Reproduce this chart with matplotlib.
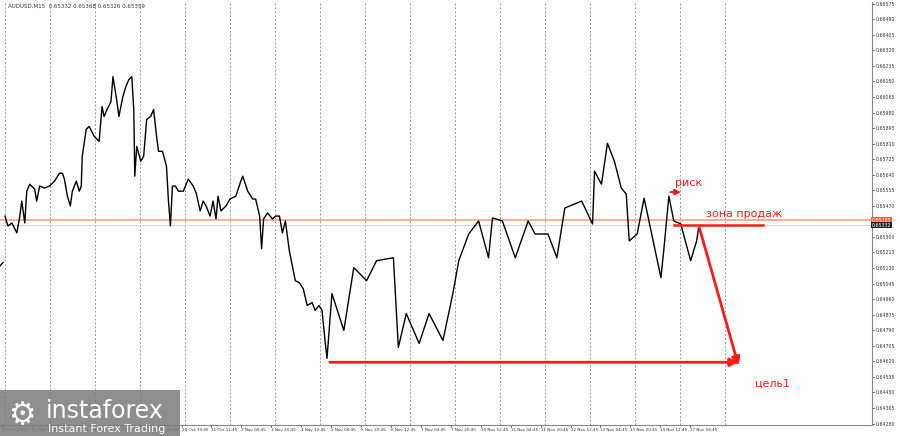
import matplotlib
matplotlib.use("Agg")
import matplotlib.pyplot as plt
from matplotlib.patches import Rectangle

# chart positions (bar-axis units ~ screen columns) and prices
bar_x = [5, 8, 12, 17, 20, 22, 25, 27, 30, 35, 37, 40, 45, 50, 55, 60, 63, 65, 68, 71,
         73, 77, 80, 82, 83, 87, 90, 95, 100, 103, 105, 108, 112, 114, 118, 120, 124, 127,
         130, 133, 135, 136, 138, 142, 145, 148, 152, 155, 158, 160, 164, 168, 170, 172,
         174, 177, 180, 185, 190, 195, 198, 202, 205, 208, 212, 215, 218, 220, 223, 228,
         232, 238, 243, 245, 250, 255, 258, 262, 264, 266, 270, 275, 278, 282, 285, 288,
         292, 295, 298, 302, 306, 310, 315, 318, 322, 325, 328, 330, 335, 347, 357, 370,
         380, 397, 402, 410, 423, 433, 447, 457, 463, 473, 483, 493, 497, 507, 520, 533,
         540, 553, 562, 570, 587, 598, 600, 607, 613, 620, 627, 632, 635, 643, 650, 657,
         667, 670, 675, 680, 687, 697, 703, 705]
close = [0.65414, 0.65360, 0.65376, 0.65322, 0.65414, 0.65496, 0.65376, 0.65550, 0.65588,
         0.65561, 0.65496, 0.65578, 0.65567, 0.65578, 0.65605, 0.65648, 0.65648, 0.65616,
         0.65523, 0.65469, 0.65550, 0.65605, 0.65550, 0.65578, 0.65741, 0.65888, 0.65904,
         0.65850, 0.65822, 0.66013, 0.65958, 0.65996, 0.66040, 0.66176, 0.66040, 0.65958,
         0.66067, 0.66122, 0.66160, 0.66176, 0.65996, 0.65632, 0.65795, 0.65714, 0.65741,
         0.65942, 0.65958, 0.65996, 0.65850, 0.65768, 0.65768, 0.65686, 0.65496, 0.65360,
         0.65578, 0.65578, 0.65550, 0.65550, 0.65616, 0.65578, 0.65540, 0.65442, 0.65496,
         0.65469, 0.65414, 0.65496, 0.65398, 0.65523, 0.65442, 0.65469, 0.65507, 0.65523,
         0.65605, 0.65632, 0.65550, 0.65507, 0.65507, 0.65414, 0.65235, 0.65398, 0.65431,
         0.65398, 0.65414, 0.65414, 0.65322, 0.65387, 0.65224, 0.65142, 0.65061, 0.65050,
         0.65017, 0.64925, 0.64941, 0.64898, 0.64925, 0.64898, 0.64734, 0.64636, 0.64990,
         0.64789, 0.65132, 0.65061, 0.65170, 0.65186, 0.64696, 0.64881, 0.64718, 0.64881,
         0.64734, 0.64990, 0.65170, 0.65316, 0.65387, 0.65186, 0.65404, 0.65387, 0.65186,
         0.65387, 0.65316, 0.65316, 0.65186, 0.65458, 0.65496, 0.65371, 0.65659, 0.65588,
         0.65812, 0.65714, 0.65567, 0.65534, 0.65278, 0.65316, 0.65512, 0.65333, 0.65077,
         0.65235, 0.65523, 0.65387, 0.65371, 0.65170, 0.65278, 0.65349]
first_x = [0, 3]
first_close = [0.65142, 0.65160]

resistance = 0.65390
last_price = 0.65365
target = 0.64615
arrow_tip = 0.64582

price_ticks = [0.66575, 0.66490, 0.66405, 0.66320, 0.66235, 0.66150, 0.66065, 0.65980,
               0.65895, 0.65810, 0.65725, 0.65640, 0.65555, 0.65470, 0.65300, 0.65215,
               0.65130, 0.65045, 0.64960, 0.64875, 0.64790, 0.64705, 0.64620, 0.64535,
               0.64450, 0.64365, 0.64280]
time_labels = ["24 Oct 2025", "27 Oct 11:45", "28 Oct 03:45", "28 Oct 19:45", "29 Oct 11:45",
               "30 Oct 03:45", "30 Oct 19:45", "31 Oct 11:45", "3 Nov 04:45", "3 Nov 20:45",
               "4 Nov 12:45", "5 Nov 04:45", "5 Nov 20:45", "6 Nov 12:45", "7 Nov 04:45",
               "7 Nov 20:45", "10 Nov 12:45", "11 Nov 04:45", "11 Nov 20:45", "12 Nov 12:45",
               "13 Nov 04:45", "13 Nov 20:45", "14 Nov 12:45", "17 Nov 04:45"]

fig = plt.figure(figsize=(9, 4.36), dpi=100)
ax = fig.add_axes([0.0, 11 / 436, 872 / 900, 423 / 436])
ax.set_xlim(0, 880)
ax.set_ylim(0.64272, 0.66584)

for k in range(17):
    ax.axvline(5 + 45.4 * k, color="#999999", lw=0.7, ls=(0, (2, 2)), zorder=1)

ax.plot(bar_x, close, color="black", lw=1.0, zorder=3)
ax.plot(first_x, first_close, color="black", lw=1.0, zorder=3)

ax.axhline(resistance, color="#ffa07a", lw=1.2, zorder=2)
ax.axhline(last_price, color="#d8d8d8", lw=0.8, zorder=2)

red = "#ff1a1a"
ax.plot([680, 770], [last_price, last_price], color=red, lw=1.8, zorder=4)
ax.annotate("", xy=(748, target), xytext=(330, target),
            arrowprops=dict(arrowstyle="-|>", color=red, lw=2, mutation_scale=12))
ax.annotate("", xy=(746, arrow_tip), xytext=(705, last_price),
            arrowprops=dict(arrowstyle="-|>", color=red, lw=2, mutation_scale=12))
ax.annotate("", xy=(690, 0.65545), xytext=(674, 0.65545),
            arrowprops=dict(arrowstyle="-|>", color=red, lw=1.5, mutation_scale=8))
ax.text(681, 0.65570, "риск", color=red, fontsize=8, va="bottom")
ax.text(712, 0.65400, "зона продаж", color=red, fontsize=8, va="bottom")
ax.text(762, 0.64500, "цель1", color=red, fontsize=8, va="center")
ax.text(8, 0.66555, "AUDUSD,M15  0.65332 0.65368 0.65326 0.65359", fontsize=4, color="#333333")

ax.yaxis.tick_right()
ax.set_yticks(price_ticks)
ax.set_yticklabels([f"{p:.5f}" for p in price_ticks], fontsize=3.4, color="#333333")
ax.set_xticks([2 + 30.2 * i for i in range(len(time_labels))])
ax.set_xticklabels(time_labels, fontsize=3.0, color="#333333", ha="left")
ax.tick_params(length=1.5, width=0.5, pad=1)
for side in ("top", "left"):
    ax.spines[side].set_visible(False)
for side in ("right", "bottom"):
    ax.spines[side].set_color("#888888")

ax.text(1.0, resistance, "0.65385", transform=ax.get_yaxis_transform(), fontsize=3.4,
        color="white", va="center", ha="left", bbox=dict(fc="#ff5a36", ec="none", pad=0.4))
ax.text(1.0, last_price, "0.65332", transform=ax.get_yaxis_transform(), fontsize=3.4,
        color="white", va="center", ha="left", bbox=dict(fc="#222222", ec="none", pad=0.4))

# watermark
fig.patches.append(Rectangle((0, 0), 180 / 900, 46 / 436, transform=fig.transFigure,
                             fc="#7a7a7a", alpha=0.85, ec="none", zorder=5))
fig.text(46 / 900, 18 / 436, "instaforex", fontsize=17, color="white", zorder=6)
fig.text(48 / 900, 4 / 436, "Instant Forex Trading", fontsize=8, color="white", zorder=6)
fig.text(8 / 900, 12 / 436, "\u2699", fontsize=22, color="white", zorder=6)

fig.savefig("out.png", dpi=100)
